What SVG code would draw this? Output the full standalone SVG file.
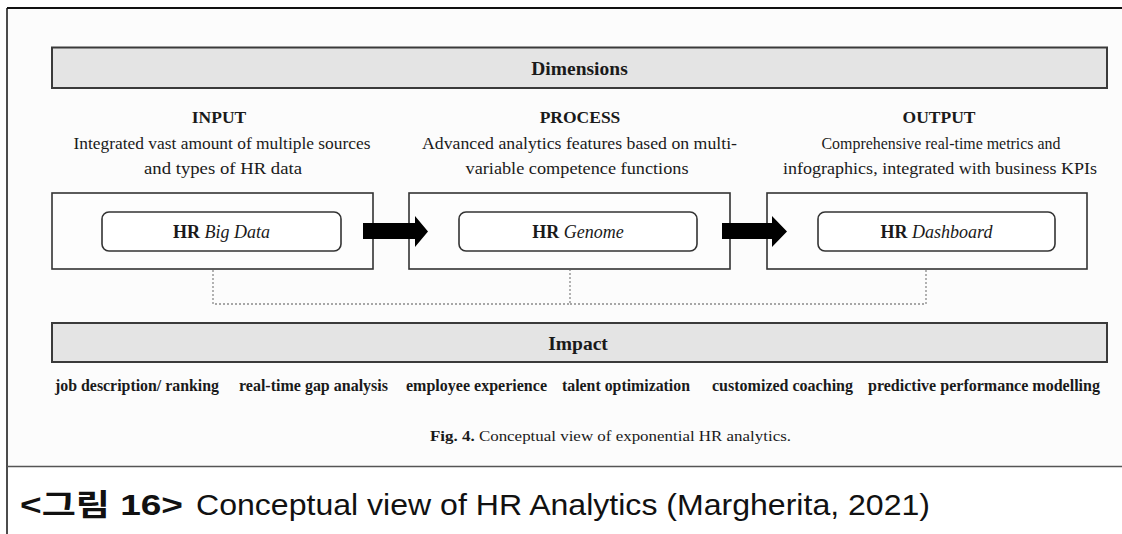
<svg xmlns="http://www.w3.org/2000/svg" width="1122" height="534" viewBox="0 0 1122 534">
<style>
.serif{font-family:"Liberation Serif","Times New Roman",serif;fill:#1a1a1a}
.bar{fill:#e4e4e4;stroke:#3a3a3a;stroke-width:2}
.box{fill:#fdfdfd;stroke:#333;stroke-width:1.6}
.inner{fill:#fff;stroke:#333;stroke-width:1.6}
.head{font-size:17.5px;font-weight:bold;text-anchor:middle}
.desc{font-size:17.5px;text-anchor:middle}
.lbl{font-size:18px;text-anchor:middle}
.imp{font-size:16px;font-weight:bold}
.arrow{fill:#000}
.dot{fill:none;stroke:#8a8a8a;stroke-width:1.3;stroke-dasharray:2 2}
.frame{stroke:#111;fill:none}
.cap{font-family:"Liberation Sans","Noto Sans CJK KR",sans-serif;font-size:30px;fill:#111}
</style>
<rect x="0" y="0" width="1122" height="534" fill="#ffffff"/>
<rect x="8" y="9" width="1114" height="457" fill="#fcfcfc"/>
<g id="frame">
<line class="frame" x1="7" y1="8" x2="1122" y2="8" stroke-width="2"/>
<line class="frame" x1="7" y1="8" x2="7" y2="534" stroke-width="1.5"/>
<line x1="7" y1="466.5" x2="1122" y2="466.5" stroke="#555" stroke-width="1.5"/>
</g>
<g id="dimensions">
<rect class="bar" x="52" y="47.5" width="1055" height="40.5"/>
<text class="serif" x="579.5" y="74.5" font-size="19.5" font-weight="bold" text-anchor="middle">Dimensions</text>
</g>
<g id="input-header" class="serif">
<text class="head" x="219" y="123">INPUT</text>
<text class="desc" x="222" y="149" textLength="297" lengthAdjust="spacingAndGlyphs">Integrated vast amount of multiple sources</text>
<text class="desc" x="223" y="174" textLength="158" lengthAdjust="spacingAndGlyphs">and types of HR data</text>
</g>
<g id="process-header" class="serif">
<text class="head" x="580" y="123">PROCESS</text>
<text class="desc" x="579.5" y="149" textLength="315" lengthAdjust="spacingAndGlyphs">Advanced analytics features based on multi-</text>
<text class="desc" x="577" y="174" textLength="223" lengthAdjust="spacingAndGlyphs">variable competence functions</text>
</g>
<g id="output-header" class="serif">
<text class="head" x="939" y="123">OUTPUT</text>
<text class="desc" x="941" y="149" textLength="239" lengthAdjust="spacingAndGlyphs">Comprehensive real-time metrics and</text>
<text class="desc" x="940" y="174" textLength="314" lengthAdjust="spacingAndGlyphs">infographics, integrated with business KPIs</text>
</g>
<g id="hr-big-data">
<rect class="box" x="52" y="193" width="321" height="76"/>
<rect class="inner" x="102" y="212" width="239" height="39" rx="7"/>
<text class="serif lbl" x="221.5" y="238"><tspan font-weight="bold">HR</tspan> <tspan font-style="italic">Big Data</tspan></text>
</g>
<g id="hr-genome">
<rect class="box" x="409" y="193" width="321" height="76"/>
<rect class="inner" x="459" y="212" width="238" height="39" rx="7"/>
<text class="serif lbl" x="578" y="238"><tspan font-weight="bold">HR</tspan> <tspan font-style="italic">Genome</tspan></text>
</g>
<g id="hr-dashboard">
<rect class="box" x="767" y="193" width="320" height="76"/>
<rect class="inner" x="818" y="212" width="237" height="39" rx="7"/>
<text class="serif lbl" x="936.5" y="238"><tspan font-weight="bold">HR</tspan> <tspan font-style="italic">Dashboard</tspan></text>
</g>
<g id="connectors">
<polyline class="dot" points="213,270 213,304 570,304 570,270"/>
<polyline class="dot" points="570,304 926,304 926,270"/>
<polygon class="arrow" points="363,223 415,223 415,216 428,231.5 415,247 415,239 363,239"/>
<polygon class="arrow" points="722,223 772,223 772,216 787,231.5 772,247 772,239 722,239"/>
</g>
<g id="impact">
<rect class="bar" x="52" y="323" width="1055" height="39"/>
<text class="serif" x="578" y="349.5" font-size="19.5" font-weight="bold" text-anchor="middle">Impact</text>
</g>
<g id="impact-items" class="serif">
<text class="imp" x="55" y="391" textLength="164" lengthAdjust="spacingAndGlyphs">job description/ ranking</text>
<text class="imp" x="239" y="391" textLength="149" lengthAdjust="spacingAndGlyphs">real-time gap analysis</text>
<text class="imp" x="406" y="391" textLength="141" lengthAdjust="spacingAndGlyphs">employee experience</text>
<text class="imp" x="562" y="391" textLength="128" lengthAdjust="spacingAndGlyphs">talent optimization</text>
<text class="imp" x="712" y="391" textLength="141" lengthAdjust="spacingAndGlyphs">customized coaching</text>
<text class="imp" x="868" y="391" textLength="232" lengthAdjust="spacingAndGlyphs">predictive performance modelling</text>
</g>
<g id="fig-caption" class="serif">
<text x="430" y="441" font-size="15.5" textLength="361" lengthAdjust="spacingAndGlyphs"><tspan font-weight="bold">Fig. 4.</tspan> Conceptual view of exponential HR analytics.</text>
</g>
<g id="caption">
<text class="cap" x="20" y="515" font-weight="bold" fill="#000" textLength="163" lengthAdjust="spacingAndGlyphs">&lt;그림 16&gt;</text>
<text class="cap" x="196" y="515" textLength="734" lengthAdjust="spacingAndGlyphs">Conceptual view of HR Analytics (Margherita, 2021)</text>
</g>
</svg>
